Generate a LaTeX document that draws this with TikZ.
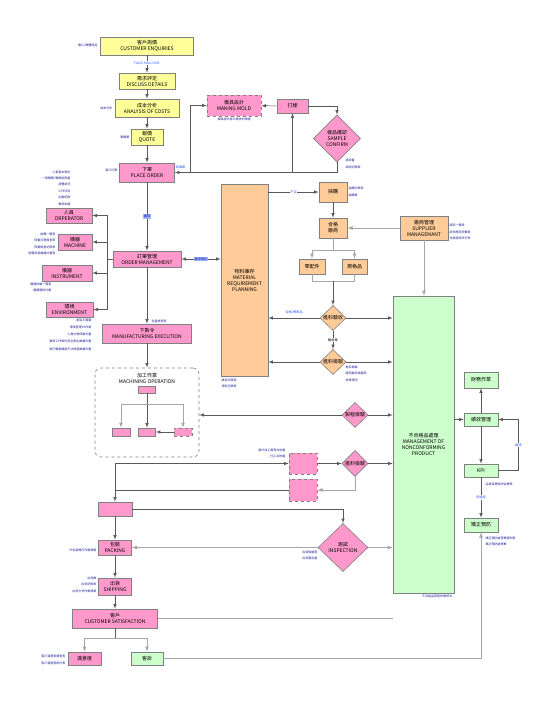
\documentclass[tikz,border=0pt]{standalone}
\usepackage{fontspec}
\setmainfont{Noto Sans CJK TC}
\usetikzlibrary{shapes.geometric}
\definecolor{yelfill}{RGB}{255,255,153}
\definecolor{pnkfill}{RGB}{255,153,204}
\definecolor{orgfill}{RGB}{255,204,153}
\definecolor{grnfill}{RGB}{204,255,204}
\definecolor{edge}{RGB}{128,128,128}
\definecolor{navy}{RGB}{30,30,150}
\definecolor{sky}{RGB}{40,90,255}

\begin{document}
\begin{tikzpicture}[x=1pt, y=-1pt, font=\fontsize{5}{6}\selectfont, >=latex,
    box/.style = {draw=edge, line width=0.6pt, align=center, inner sep=0pt},
    yel/.style = {box, fill=yelfill},
    pnk/.style = {box, fill=pnkfill},
    org/.style = {box, fill=orgfill},
    grn/.style = {box, fill=grnfill},
    dia/.style = {diamond, aspect=1},
    wr/.style = {draw=black!65, line width=0.6pt},
    lt/.style = {draw=black!35, line width=0.8pt},
    note/.style = {text=navy, font=\fontsize{3}{6.4}\selectfont, inner sep=0.5pt},
    tag/.style = {text=sky, font=\fontsize{3.2}{4}\selectfont, fill=white, inner sep=0.6pt},
    hl/.style = {text=navy, font=\fontsize{3.2}{4}\selectfont, fill=sky!45, inner sep=0.8pt}]
\useasboundingbox (0,0) rectangle (534,702);

\node[yel, minimum width=93, minimum height=18] (enq) at (147,46) {客戶詢價\\CUSTOMER ENQUIRIES};
\node[yel, minimum width=56, minimum height=16] (disc) at (147,81) {需求評定\\DISCUSS DETAILS};
\node[yel, minimum width=64, minimum height=18] (cost) at (147,108) {成本分析\\ANALYSIS OF COSTS};
\node[yel, minimum width=32, minimum height=16] (quote) at (147,137) {報價\\QUOTE};
\node[pnk, minimum width=55, minimum height=19] (order) at (147,172.5) {下單\\PLACE ORDER};
\node[pnk, dashed, minimum width=54, minimum height=21] (mold) at (234,105.5) {模具設計\\MAKING MOLD};
\node[pnk, minimum width=31, minimum height=14] (proof) at (292.5,106) {打樣};
\node[pnk, dia, minimum width=47, minimum height=47] (sample) at (337,138.5) {樣品確認\\SAMPLE\\CONFIRM};
\node[pnk, minimum width=68, minimum height=16] (om) at (147,259) {訂單管理\\ORDER MANAGEMENT};
\node[pnk, minimum width=46, minimum height=15] (oper) at (69,215.5) {人員\\ORPERATOR};
\node[pnk, minimum width=34, minimum height=16] (mach) at (75,242) {機器\\MACHINE};
\node[pnk, minimum width=50, minimum height=16] (inst) at (67,273) {儀器\\INSTRUMENT};
\node[pnk, minimum width=47, minimum height=15] (env) at (69.5,309.5) {環境\\ENVIRONMENT};
\node[org, minimum width=47, minimum height=192] (mrp) at (244.5,280) {物料庫存\\MATERIAL\\REQUIREMENT\\PLANNING};
\node[org, minimum width=28, minimum height=20] (buy) at (333,192) {採購};
\node[org, minimum width=28, minimum height=20] (vendor) at (333,228) {合格\\廠商};
\node[org, minimum width=26, minimum height=15] (parts) at (312,266.5) {零配件};
\node[org, minimum width=25, minimum height=15] (std) at (354.5,266.5) {規格品};
\node[org, minimum width=48, minimum height=24] (supmgr) at (424,228) {廠商管理\\SUPPLIER\\MANAGEMANT};
\node[org, dia, minimum width=26, minimum height=25] (recv) at (333,318) {進料驗收};
\node[org, dia, minimum width=26, minimum height=25] (iqc) at (333,362) {進料檢驗};
\node[grn, minimum width=61, minimum height=297] (ncp) at (423.5,444.5) {不合格品處理\\MANAGEMENT OF\\NONCONFORMING\\PRODUCT};
\node[pnk, minimum width=89, minimum height=19] (mfg) at (147,333.5) {下製令\\MANUFACTURING EXECUTION};
\node[box, dashed, rounded corners=6, minimum width=104, minimum height=89] (mac) at (147,412.5) {};
\node[align=center, inner sep=0pt] (macT) at (147,378.5) {加工作業\\MACHINING OPERATION};
\node[pnk, minimum width=17, minimum height=7] (m0) at (147,389.5) {};
\node[pnk, minimum width=18, minimum height=8] (m1) at (121,432) {};
\node[pnk, minimum width=17, minimum height=8] (m2) at (147,432) {};
\node[pnk, dashed, minimum width=18, minimum height=8] (m3) at (183,432) {};
\node[pnk, dia, minimum width=26, minimum height=25] (ipqc) at (355,415) {製程檢驗};
\node[pnk, dashed, minimum width=28, minimum height=21] (out1) at (303,463.5) {};
\node[pnk, dashed, minimum width=28, minimum height=22] (out2) at (303,490) {};
\node[pnk, dia, minimum width=26, minimum height=26] (oqc) at (355,463.5) {進料檢驗};
\node[pnk, minimum width=34, minimum height=14] (blank) at (115,509) {};
\node[pnk, dia, minimum width=50, minimum height=48] (insp) at (343,547.5) {測試\\INSPECTION};
\node[pnk, minimum width=33, minimum height=15] (pack) at (115,547.5) {包裝\\PACKING};
\node[pnk, minimum width=33, minimum height=17] (ship) at (115,586.5) {出貨\\SHIPPING};
\node[pnk, minimum width=85, minimum height=19] (cs) at (115,618.5) {客戶\\CUSTOMER SATISFACTION};
\node[pnk, minimum width=33, minimum height=13] (sat) at (84.5,658.5) {滿意度};
\node[grn, minimum width=32, minimum height=13] (compl) at (147,658.5) {客訴};
\node[grn, minimum width=34, minimum height=16] (fin) at (481,380) {財務作業};
\node[grn, minimum width=34, minimum height=13] (perf) at (481,419.5) {績效管理};
\node[grn, minimum width=34, minimum height=13] (kpi) at (481,470.5) {KPI};
\node[grn, minimum width=34, minimum height=14] (capa) at (481,525) {矯正預防};

\coordinate (c1) at (190,172.5);
\coordinate (c2) at (292.5,172.5);
\coordinate (cv) at (107,259);
\coordinate (cs1) at (333,250);
\coordinate (cm) at (333,281);
\coordinate (cb) at (147,404);
\coordinate (ct) at (115,463.5);
\coordinate (cc) at (115,638);

\draw[wr, ->] (enq) -- node[tag, pos=0.45] {FAX/E-MAIL/LINE} (disc);
\draw[wr, ->] (disc) -- (cost);
\draw[wr, ->] (cost) -- (quote);
\draw[wr, ->] (quote) -- (order);
\draw[wr, ->] (sample.south) |- (order.east);
\draw[wr, ->] (c1) |- (mold.west);
\draw[wr, ->] (c2) -- (proof.south);
\draw[wr, ->] (proof) -- (mold);
\draw[wr, ->] (proof.east) -| (sample.north);
\draw[wr, ->] (order) -- node[hl] {審核} (om);
\draw[wr, <->] (om.east) -- (om.east -| mrp.west) node[midway, hl] {需求物料};
\draw[wr] (om.west) -- (cv);
\foreach \n in {oper, mach, inst, env}
    \draw[wr, ->] (cv) |- (\n.east);
\draw[wr, ->] (om) -- (mfg);
\draw[wr, ->] (mfg) -- (mac);
\draw[wr, ->] (mrp.east |- buy.west) -- node[tag] {不足} (buy.west);
\draw[wr, ->] (buy) -- (vendor);
\draw[lt, ->] (supmgr) -- (vendor);
\draw[lt] (vendor) -- (cs1);
\foreach \n in {parts, std} {
    \draw[lt, ->] (cs1) -| (\n.north);
    \draw[lt] (\n.south) |- (cm);
}
\draw[wr, ->] (cm) -- (recv.north);
\draw[wr, ->] (recv.west) -- (recv.west -| mrp.east) node[midway, above, text=sky, font=\fontsize{3.2}{4}\selectfont] {合格/標準品};
\draw[wr, ->] (recv.east) -- (recv.east -| ncp.west);
\draw[wr, ->] (recv) -- node[fill=white, inner sep=0.5pt, font=\fontsize{3.2}{4}\selectfont] {驗收單} (iqc);
\draw[wr, ->] (iqc.west) -- (iqc.west -| mrp.east);
\draw[wr, ->] (iqc.east) -- (iqc.east -| ncp.west);
\draw[lt, ->] (supmgr) -- (supmgr |- ncp.north);
\draw[wr, ->] (m0) -- (m2);
\foreach \n in {m1, m3}
    \draw[lt, ->] (cb) -| (\n.north);
\draw[wr, ->] (m3) -- (m2);
\draw[wr, ->] (ipqc.west) -- (ipqc.west -| mac.east);
\draw[wr, ->] (ipqc.east) -- (ipqc.east -| ncp.west);
\draw[wr, ->] (ct) -- (out1.west);
\draw[wr, ->] (ct) -- (blank.north);
\draw[wr] (out2.west) -- (out2.west -| ct);
\draw[wr, ->] (out1) -- (oqc);
\draw[wr, ->] (oqc.east) -- (oqc.east -| ncp.west);
\draw[lt, ->] (oqc.south) |- (out2.east);
\draw[wr, ->] (blank.east) -| (insp.north);
\draw[wr, ->] (blank) -- (pack);
\draw[lt, ->] (insp) -- (pack);
\draw[lt, ->] (insp.east) -- (insp.east -| ncp.west);
\draw[wr, ->] (pack) -- (ship);
\draw[wr, ->] (ship) -- (cs);
\draw[wr] (cs) -- (cc);
\foreach \n in {sat, compl}
    \draw[lt, ->] (cc) -| (\n.north);
\draw[lt] (cs.east) -- (cs.east -| ncp.west);
\draw[lt, ->] (compl.east) -| (capa.south);
\draw[wr, ->] (ncp.east |- perf.west) -- (perf.west);
\draw[wr, ->] (perf) -- (fin);
\draw[wr, ->] (perf) -- (kpi);
\draw[wr, ->] (kpi.east) -- ++(20,0) |- node[tag, pos=0.25] {達成} (perf.east);
\draw[wr, ->] (kpi) -- node[tag] {未達成} (capa);

\node[note, anchor=east] (lenq) at (98,45) {圖片/實體樣品};
\node[note, anchor=east] (lcost) at (113,108) {成本分析};
\node[note, anchor=east] (lquote) at (130,137) {報價單};
\node[note, anchor=east] (lorder) at (118,170) {客戶訂單};
\node[tag, anchor=west] (lnew) at (175,167) {新議單};
\node[note, anchor=north] (lmold) at (234,117) {模具設計客戶需求的規格};
\node[note, anchor=west, align=left] (lsample) at (345,164) {承認書\\承認紀錄表};
\node[note, anchor=east, align=right] (loper) at (71,188) {人事基本資料\\一般職務/職務說明書\\身體狀況\\工作日誌\\出勤紀錄\\教育訓練};
\node[note, anchor=east, align=right] (lmach) at (56,244) {設備一覽表\\保養日程檢查表\\保養檢查記錄表\\設備改善維護計畫表};
\node[note, anchor=east, align=right] (linst) at (52,287.5) {儀器校驗一覽表\\儀器儀校計劃};
\node[note, anchor=east, align=right, font=\fontsize{3}{7.3}\selectfont] (lenv) at (92,334.5) {廠區平面圖\\環境管理5S作業\\人員社會保險計畫\\異常工作條件安全衛生維護計畫\\執行職業健康不法侵害維護計畫};
\node[note, anchor=west] (lsched) at (151,321) {生產排程表};
\node[note, anchor=north west, align=left] (lmrp) at (221,378) {庫存記錄表\\領料記錄表};
\node[note, anchor=west, align=left] (lbuy) at (348,192) {採購記錄表\\採購單};
\node[note, anchor=west, align=left] (lsup) at (449,232) {廠商一覽表\\新供應商評鑑表\\年度廠商評分表};
\node[note, anchor=west, align=left] (liqc) at (345,373.5) {進料檢驗\\廠商進料檢驗表\\材質證明};
\node[note, anchor=east, align=right] (lout) at (286,453.5) {委外加工廠商合約書\\托工合約書};
\node[note, anchor=east, align=right] (linsp) at (318,555.5) {出貨檢驗表\\出貨報告書};
\node[note, anchor=east] (lpack) at (97,550) {外包裝標示作業規範};
\node[note, anchor=east, align=right] (lship) at (97,584.5) {出貨單\\出貨記錄表\\出貨方式作業規範};
\node[note, anchor=east, align=right] (lsat) at (66,660) {客戶滿意度調查表\\客戶滿意度統計表};
\node[note, anchor=west] (lkpi) at (485,484) {品質目標與評估標準};
\node[note, anchor=west, align=left] (lcapa) at (485,541.5) {矯正預防處理單管制表\\矯正預防處理單};
\node[note, anchor=north] (lncp) at (437,594) {不合格品管制作業辦法};
\end{tikzpicture}
\end{document}
